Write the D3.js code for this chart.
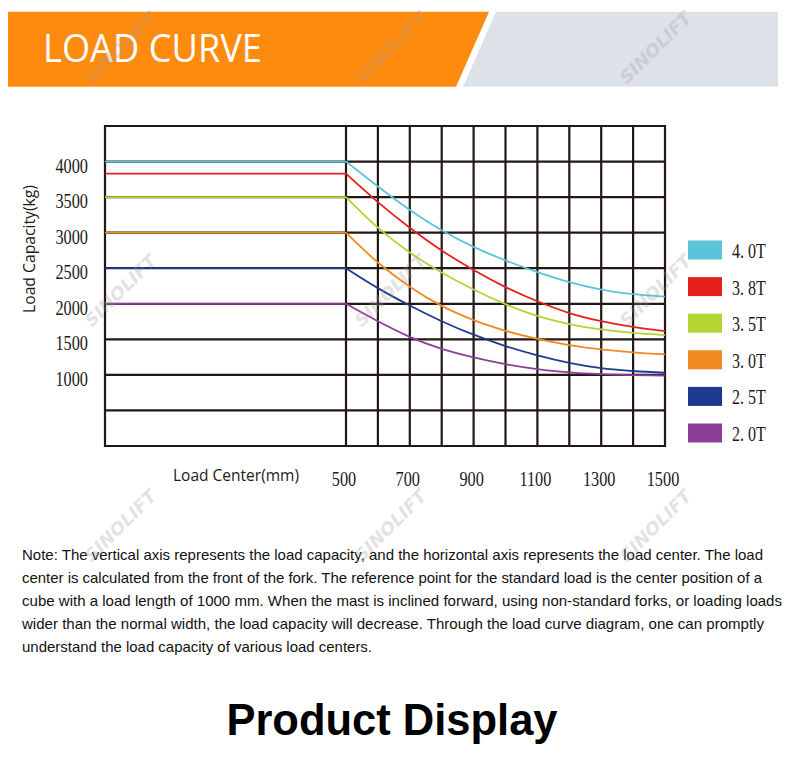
<!DOCTYPE html>
<html>
<head>
<meta charset="utf-8">
<script src="https://cdn.jsdelivr.net/npm/d3@7"></script>
<style>
  html, body { margin: 0; padding: 0; background: #fff; }
  svg { display: block; }
</style>
</head>
<body>
<div id="chart"></div>
<script>
(() => {
  // load centers (mm) and capacities (kg)
  const loadCenters = [500, 600, 700, 800, 900, 1000, 1100, 1200, 1300, 1400, 1500];
  const seriesNames = ["4. 0T", "3. 8T", "3. 5T", "3. 0T", "2. 5T", "2. 0T"];
  const seriesColors = ["#5bc3da", "#e8201c", "#b4d334", "#f18a21", "#1e3a90", "#8c3f98"];
  const cap40 = [4000, 3650, 3320, 3035, 2800, 2610, 2445, 2305, 2200, 2135, 2100];
  const cap38 = [3830, 3430, 3070, 2750, 2475, 2235, 2035, 1870, 1755, 1675, 1615];
  const cap35 = [3500, 3070, 2720, 2440, 2200, 1995, 1830, 1715, 1640, 1590, 1560];
  const cap30 = [3000, 2580, 2240, 1970, 1770, 1620, 1505, 1420, 1360, 1318, 1290];
  const cap25 = [2500, 2220, 1975, 1755, 1565, 1405, 1275, 1170, 1095, 1055, 1030];
  const cap20 = [2000, 1755, 1535, 1365, 1245, 1150, 1080, 1035, 1010, 997, 990];
  const capacities = [cap40, cap38, cap35, cap30, cap25, cap20];

  const yTickLabels = [1000, 1500, 2000, 2500, 3000, 3500, 4000];
  const xTickLabels = [500, 700, 900, 1100, 1300, 1500];
  const yGridValues = d3.range(0, 4501, 500);
  const xGridValues = [0].concat(d3.range(500, 1501, 100));

  const noteLines = [
    "Note: The vertical axis represents the load capacity, and the horizontal axis represents the load center. The load",
    "center is calculated from the front of the fork. The reference point for the standard load is the center position of a",
    "cube with a load length of 1000 mm. When the mast is inclined forward, using non-standard forks, or loading loads",
    "wider than the normal width, the load capacity will decrease. Through the load curve diagram, one can promptly",
    "understand the load capacity of various load centers."
  ];
  const noteWidths = [741, 740, 760, 742, 350];

  const width = 790, height = 768;
  const svg = d3.select("#chart").append("svg")
    .attr("width", width).attr("height", height)
    .attr("viewBox", `0 0 ${width} ${height}`);

  // header banner
  svg.append("path")
    .attr("d", "M8,11.7 L489,11.7 L456,86.7 L8,86.7 Z")
    .attr("fill", "#ff8b0e");
  svg.append("path")
    .attr("d", "M496,11.7 L778,11.7 L778,86.7 L463,86.7 Z")
    .attr("fill", "#dde1e8");
  svg.append("text")
    .attr("x", 43).attr("y", 62)
    .attr("textLength", 219).attr("lengthAdjust", "spacingAndGlyphs")
    .attr("font-family", "'Open Sans', Lato, sans-serif")
    .attr("font-size", 39)
    .attr("fill", "#fff")
    .text("LOAD CURVE");

  // chart scales: left block stands for 0-500 mm, then 100 mm columns
  const x = d3.scaleLinear().domain([0, 500, 1500]).range([105, 346, 665]);
  const y = d3.scaleLinear().domain([0, 4500]).range([446, 126]);

  const g = svg.append("g");

  const serif = "'Liberation Serif', 'DejaVu Serif', serif";

  // grid
  g.selectAll(".hgrid").data(yGridValues).join("line")
    .attr("class", "hgrid")
    .attr("x1", x(0) - 1).attr("x2", x(1500) + 1)
    .attr("y1", (d) => y(d)).attr("y2", (d) => y(d))
    .attr("stroke", "#231815").attr("stroke-width", 2.2);
  g.selectAll(".vgrid").data(xGridValues).join("line")
    .attr("class", "vgrid")
    .attr("x1", (d) => x(d)).attr("x2", (d) => x(d))
    .attr("y1", y(4500) - 1).attr("y2", y(0) + 1)
    .attr("stroke", "#231815").attr("stroke-width", 2.2);

  // curves: flat up to 500 mm, then falling
  const line = d3.line()
    .x((d) => x(d[0]))
    .y((d) => y(d[1]))
    .curve(d3.curveMonotoneX);

  capacities.forEach((values, i) => {
    const pts = loadCenters.map((c, j) => [c, values[j]]);
    g.append("line")
      .attr("x1", x(0)).attr("x2", x(500))
      .attr("y1", y(values[0])).attr("y2", y(values[0]))
      .attr("stroke", seriesColors[i]).attr("stroke-width", 1.8);
    g.append("path")
      .attr("d", line(pts))
      .attr("fill", "none")
      .attr("stroke", seriesColors[i]).attr("stroke-width", 1.8);
  });

  // y tick labels
  g.selectAll(".ylab").data(yTickLabels).join("text")
    .attr("class", "ylab")
    .attr("transform", (d) => `translate(88,${y(d) + 11}) scale(0.74,1)`)
    .attr("text-anchor", "end")
    .attr("font-family", serif)
    .attr("font-size", 22)
    .attr("fill", "#231815")
    .text((d) => d);

  // x tick labels
  g.selectAll(".xlab").data(xTickLabels).join("text")
    .attr("class", "xlab")
    .attr("transform", (d) => `translate(${x(d) - 2},486) scale(0.74,1)`)
    .attr("text-anchor", "middle")
    .attr("font-family", serif)
    .attr("font-size", 22)
    .attr("fill", "#231815")
    .text((d) => d);

  // axis titles
  svg.append("text")
    .attr("transform", "translate(35,249) rotate(-90)")
    .attr("text-anchor", "middle")
    .attr("textLength", 128).attr("lengthAdjust", "spacingAndGlyphs")
    .attr("font-family", "'Open Sans', Lato, sans-serif")
    .attr("font-size", 17)
    .attr("fill", "#231815")
    .text("Load Capacity(kg)");
  svg.append("text")
    .attr("x", 173).attr("y", 481)
    .attr("textLength", 126).attr("lengthAdjust", "spacingAndGlyphs")
    .attr("font-family", "'Open Sans', Lato, sans-serif")
    .attr("font-size", 17)
    .attr("fill", "#231815")
    .text("Load Center(mm)");

  // legend
  const ly = d3.scalePoint().domain(seriesNames).range([250, 433]);
  const legend = svg.selectAll(".legend").data(seriesNames).join("g")
    .attr("class", "legend")
    .attr("transform", (d) => `translate(688,${ly(d)})`);
  legend.append("rect")
    .attr("x", 0).attr("y", -9.5)
    .attr("width", 34).attr("height", 19)
    .attr("fill", (d, i) => seriesColors[i]);
  legend.append("text")
    .attr("transform", "translate(44,8) scale(0.73,1)")
    .attr("font-family", serif)
    .attr("font-size", 22)
    .attr("fill", "#231815")
    .text((d) => d);

  // note
  svg.selectAll(".note").data(noteLines).join("text")
    .attr("class", "note")
    .attr("x", 22)
    .attr("y", (d, i) => 560 + i * 23)
    .attr("textLength", (d, i) => noteWidths[i])
    .attr("lengthAdjust", "spacingAndGlyphs")
    .attr("font-family", "'Liberation Sans', Arial, sans-serif")
    .attr("font-size", 14.5)
    .attr("fill", "#111")
    .text((d) => d);

  // section title
  svg.append("text")
    .attr("x", 392).attr("y", 735)
    .attr("text-anchor", "middle")
    .attr("font-family", "'Liberation Sans', Arial, sans-serif")
    .attr("font-weight", "bold")
    .attr("font-size", 43.5)
    .attr("fill", "#000")
    .text("Product Display");

  // faint watermark marks
  const wmX = [125, 395, 660];
  const wmY = [52, 295, 530];
  const wm = svg.append("g").attr("opacity", 0.3).attr("pointer-events", "none");
  wmY.forEach((yy) => wmX.forEach((xx) => {
    wm.append("text")
      .attr("transform", `translate(${xx},${yy}) rotate(-45)`)
      .attr("text-anchor", "middle")
      .attr("font-family", "'DejaVu Sans', sans-serif")
      .attr("font-weight", "bold")
      .attr("font-style", "italic")
      .attr("font-size", 18)
      .attr("fill", "#9a9a9a")
      .text("SINOLIFT");
  }));
})();
</script>
</body>
</html>
